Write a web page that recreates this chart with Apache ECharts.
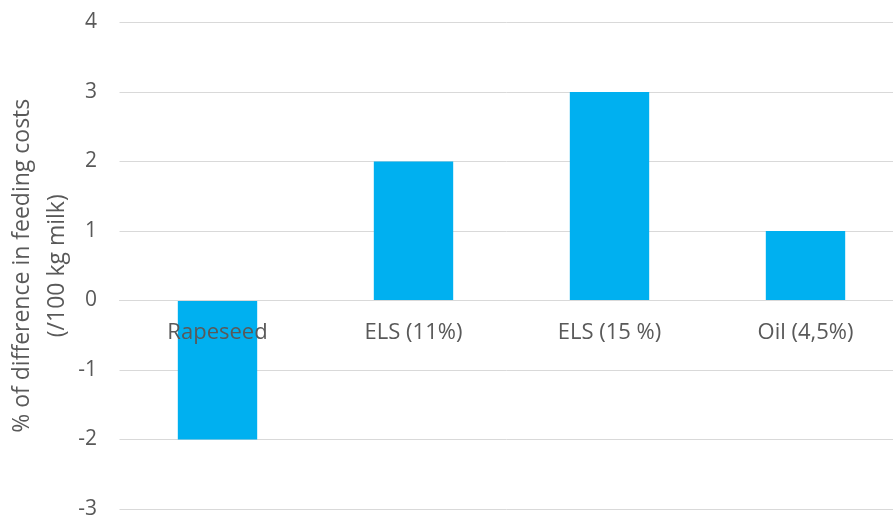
<!DOCTYPE html>
<html><head><meta charset="utf-8">
<script src="https://cdn.jsdelivr.net/npm/echarts@6/dist/echarts.min.js"></script>
<style>html,body{margin:0;padding:0;background:#fff}#c{width:893px;height:522px}</style>
</head><body><div id="c"></div>
<script>
const categories = ["Rapeseed", "ELS (11%)", "ELS (15 %)", "Oil (4,5%)"];
const values = [-2, 2, 3, 1];
const yMin = -3, yMax = 4;
const yTitle = "% of difference in feeding costs\n(/100 kg milk)";
const FONT = "Open Sans";
const GRID_TOP = 22.5, GRID_BOTTOM = 13, H = 522;
const plotH = H - GRID_TOP - GRID_BOTTOM;
const zeroOffset = -(0 - yMin) / (yMax - yMin) * plotH;
const chart = echarts.init(document.getElementById('c'));
chart.setOption({
  animation: false,
  grid: {left: 119.5, right: -10.5, top: GRID_TOP, bottom: GRID_BOTTOM, containLabel: false, outerBoundsMode: 'none'},
  xAxis: {
    type: 'category', data: categories, z: 10, position: 'bottom', offset: zeroOffset,
    axisLine: {onZero: false, lineStyle: {color: '#d9d9d9', width: 1}},
    axisTick: {show: false},
    axisLabel: {color: '#595959', fontSize: 22, fontFamily: FONT, margin: 21}
  },
  yAxis: {
    type: 'value', min: yMin, max: yMax, interval: 1,
    name: yTitle, nameLocation: 'middle', nameGap: 45, nameMoveOverlap: false,
    nameTextStyle: {color: '#595959', fontSize: 23, fontFamily: FONT, lineHeight: 35},
    axisLine: {show: false}, axisTick: {show: false},
    axisLabel: {color: '#595959', fontSize: 21, fontFamily: FONT, margin: 22.5},
    splitLine: {lineStyle: {color: '#d9d9d9', width: 1}}
  },
  series: [{
    type: 'bar', data: values, barWidth: '40.5%',
    itemStyle: {color: '#00B0F0'}
  }]
});
</script></body></html>
